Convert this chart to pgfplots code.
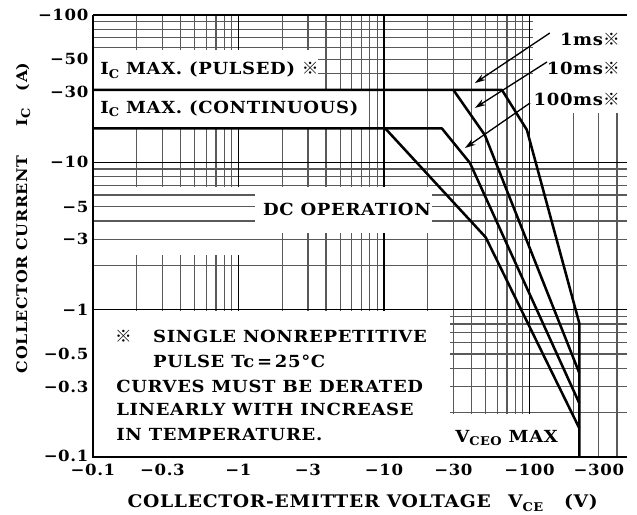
\documentclass[border=0pt]{standalone}
\usepackage{fontspec}
\setmainfont{DejaVu Serif}[LetterSpace=4, FakeStretch=1.08]
\newfontfamily\cjk{Noto Sans CJK JP}
\usepackage{pgfplots}
\pgfplotsset{compat=1.18}
\usetikzlibrary{arrows.meta}

\newcommand{\kome}{{\cjk ※}}
\newcommand{\sub}[1]{\raisebox{-0.4ex}{\small #1}}

\tikzset{
  gminor/.style={black!65, line width=0.9pt},
  gmajor/.style={black, line width=1.2pt},
  curve/.style={black, line width=1.9pt, line join=round},
  arr/.style={black, line width=1pt, -{Stealth[length=8pt,width=5pt]}},
}

\begin{document}
\begin{tikzpicture}[font=\fontsize{12.5}{14}\selectfont\bfseries]
\useasboundingbox (-69.75pt,-43.5pt) rectangle (408pt,342.75pt);
\begin{axis}[
  at={(0,0)}, anchor=south west,
  scale only axis, width=400.5pt, height=331.5pt,
  xmode=log, ymode=log,
  xmin=0.1, xmax=468, ymin=0.1, ymax=100,
  axis line style={draw=none},
  major tick length=0pt, minor tick length=0pt,
  xtick={0.1,0.3,1,3,10,30,100,300},
  xticklabels={−0.1,−0.3,−1,−3,−10,−30,−100,−300},
  ytick={0.1,0.3,0.5,1,3,5,10,30,50,100},
  yticklabels={{\raisebox{2pt}{−0.1}},−0.3,−0.5,−1,−3,−5,−10,−30,−50,−100},
  /pgf/number format/assume math mode=true,
  tick label style={font=\fontsize{11.5}{13}\selectfont\bfseries},
  xticklabel style={yshift=-2pt},
  clip=false,
]
% grid
\pgfplotsinvokeforeach{0.2,0.3,0.4,0.5,0.6,0.7,0.8,0.9,2,3,4,5,6,7,8,9,20,30,40,50,60,70,80,90,200,300,400}{
  \draw[gminor] (axis cs:#1,0.1) -- (axis cs:#1,100);
}
\pgfplotsinvokeforeach{0.2,0.3,0.4,0.5,0.6,0.7,0.8,0.9,2,3,4,5,6,7,8,9,40,50,60,70,80,90}{
  \draw[gminor] (axis cs:0.1,#1) -- (axis cs:468,#1);
}
\pgfplotsinvokeforeach{1,10,100}{
  \draw[gmajor] (axis cs:#1,0.1) -- (axis cs:#1,100);
  \draw[gmajor] (axis cs:0.1,#1) -- (axis cs:468,#1);
}
% blank areas behind the texts
\fill[white] (axis cs:0.1,31) rectangle (axis cs:3.5,58);
\fill[white] (axis cs:0.1,17) rectangle (axis cs:7.4,31);
\fill[white] (axis cs:1.3,3.3) rectangle (axis cs:21.4,6.8);
\fill[white] (axis cs:0.1,0.1) rectangle (axis cs:28.5,0.98);
\fill[white] (axis cs:28.5,0.1) rectangle (axis cs:215,0.195);
\fill[white] (axis cs:106,21.6) rectangle (axis cs:468,99);
% left of DC OPERATION only the horizontal lines are drawn
\fill[white] (axis cs:0.1,2.35) rectangle (axis cs:1.3,6.8);
\pgfplotsinvokeforeach{3,4,5,6}{
  \draw[gminor] (axis cs:0.1,#1) -- (axis cs:1.3,#1);
}

% 1 ms (with I_C max pulsed and V_CEO max)
\addplot[curve] coordinates {(0.1,31) (64.7,31) (96,16.6) (220,0.81) (220,0.1)};
% 10 ms
\addplot[curve] coordinates {(30,31) (49.4,15.3) (220,0.372)};
% DC (with I_C max continuous)
\addplot[curve] coordinates {(0.1,17) (10.2,17) (50,3.1) (220,0.157)};
% 100 ms
\addplot[curve] coordinates {(10.2,17) (25,17) (39,9.9) (220,0.232)};

\draw[arr] (axis cs:138,75.5) -- (axis cs:42.2,34.5);
\draw[arr] (axis cs:132,48) -- (axis cs:42.2,23.4);
\draw[arr] (axis cs:101,25.3) -- (axis cs:36,12.5);

\node[anchor=base west, inner sep=0] at (axis cs:0.112,39.2) {I\sub{C} MAX. (PULSED) \kome};
\node[anchor=base west, inner sep=0] at (axis cs:0.112,21.6) {I\sub{C} MAX. (CONTINUOUS)};
\node[anchor=base west, inner sep=0] at (axis cs:1.47,4.38) {DC OPERATION};
\node[anchor=base east, inner sep=0] at (axis cs:419,62.5) {1ms\kome};
\node[anchor=base east, inner sep=0] at (axis cs:419,39.2) {10ms\kome};
\node[anchor=base east, inner sep=0] at (axis cs:419,24.5) {100ms\kome};

\node[anchor=base west, inner sep=0] at (axis cs:0.1416,0.603) {\kome};
\node[anchor=base west, inner sep=0] at (axis cs:0.258,0.603) {SINGLE NONREPETITIVE};
\node[anchor=base west, inner sep=0] at (axis cs:0.258,0.407) {PULSE Tc\,=\,25°C};
\node[anchor=base west, inner sep=0] at (axis cs:0.144,0.276) {CURVES MUST BE DERATED};
\node[anchor=base west, inner sep=0] at (axis cs:0.144,0.192) {LINEARLY WITH INCREASE};
\node[anchor=base west, inner sep=0] at (axis cs:0.144,0.130) {IN TEMPERATURE.};
\node[anchor=base west, inner sep=0] at (axis cs:30.8,0.126) {V\sub{CEO} MAX};

\node[rotate=90, font=\fontsize{11}{13}\selectfont\bfseries] at (axis description cs:-0.131,0.541)
  {COLLECTOR CURRENT\hspace{2em}I\sub{C}\hspace{1.2em}(A)};
\node[font=\fontsize{13}{15}\selectfont\bfseries] at (axis description cs:0.505,-0.104)
  {COLLECTOR-EMITTER VOLTAGE\hspace{1em}V\sub{CE}\hspace{1.2em}(V)};

\draw[line width=1.6pt, line join=miter] (axis cs:0.1,100) -- (axis cs:0.1,0.1) -- (axis cs:468,0.1);
\end{axis}
\end{tikzpicture}
\end{document}
